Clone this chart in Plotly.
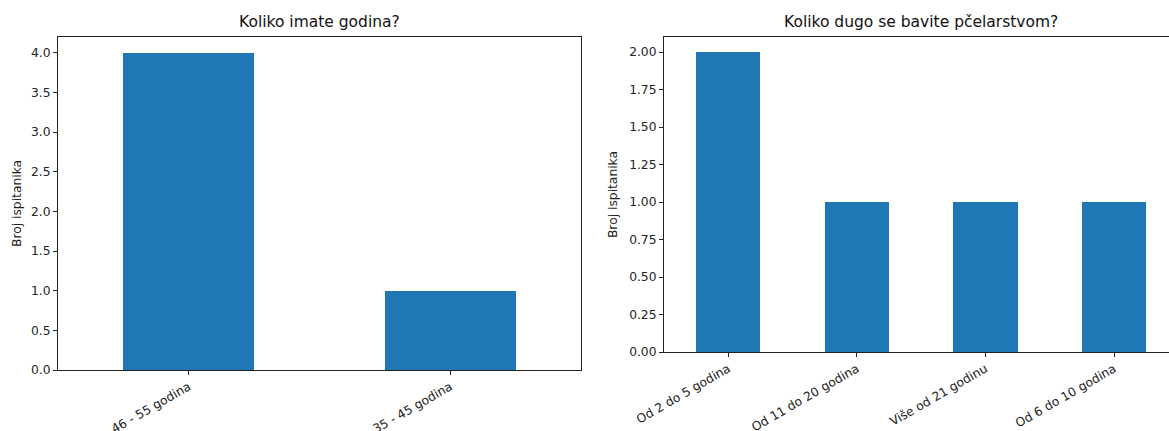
import plotly.graph_objects as go

# Data
age_labels = ['46 - 55 godina', '35 - 45 godina']
age_counts = [4, 1]

years_labels = ['Od 2 do 5 godina', 'Od 11 do 20 godina', 'Više od 21 godinu', 'Od 6 do 10 godina']
years_counts = [2, 1, 1, 1]

age_ticks = [0.0, 0.5, 1.0, 1.5, 2.0, 2.5, 3.0, 3.5, 4.0]
years_ticks = [0.0, 0.25, 0.5, 0.75, 1.0, 1.25, 1.5, 1.75, 2.0]

W, H = 1169, 431
BAR = '#1f77b4'
FONT = 'DejaVu Sans'


def px_x(v):
    return v / W


def px_y(v):
    return (H - v) / H


fig = go.Figure()
fig.add_trace(go.Bar(x=list(range(len(age_labels))), y=age_counts, width=0.5,
                     marker={'color': BAR, 'line': {'width': 0}},
                     xaxis='x', yaxis='y', showlegend=False))
fig.add_trace(go.Bar(x=list(range(len(years_labels))), y=years_counts, width=0.5,
                     marker={'color': BAR, 'line': {'width': 0}},
                     xaxis='x2', yaxis='y2', showlegend=False))

tick_font = {'family': FONT, 'size': 12.3, 'color': '#222'}
common_x = dict(showline=True, linecolor='#222', linewidth=1, ticks='outside',
                ticklen=4, tickcolor='#222', tickangle=-30, showgrid=False,
                zeroline=False, tickfont=tick_font, automargin=False)
common_y = dict(showline=True, linecolor='#222', linewidth=1, ticks='outside',
                ticklen=4, tickcolor='#222', showgrid=False, zeroline=False,
                tickfont=tick_font, automargin=False)


def y_title(standoff):
    return {'text': 'Broj ispitanika', 'standoff': standoff,
            'font': {'family': FONT, 'size': 12.3, 'color': '#222'}}


fig.update_layout(
    width=W, height=H,
    margin={'l': 0, 'r': 0, 't': 0, 'b': 0},
    paper_bgcolor='white', plot_bgcolor='white',
    bargap=0,
    xaxis=dict(common_x, domain=[px_x(58), px_x(581)], range=[-0.5, 1.5], anchor='y',
               mirror=True, tickvals=list(range(len(age_labels))), ticktext=age_labels),
    yaxis=dict(common_y, domain=[px_y(370), px_y(37)], range=[0, 4.2], anchor='x',
               mirror=True, tickvals=age_ticks, ticktext=[f'{v:.1f}' for v in age_ticks],
               title=y_title(6)),
    xaxis2=dict(common_x, domain=[px_x(664), 1.0], range=[-0.5, 3.427], anchor='y2',
                mirror=True, tickvals=list(range(len(years_labels))), ticktext=years_labels),
    yaxis2=dict(common_y, domain=[px_y(352), px_y(37)], range=[0, 2.1], anchor='x2',
                tickvals=years_ticks, ticktext=[f'{v:.2f}' for v in years_ticks],
                title=y_title(8)),
    annotations=[
        dict(text='Koliko imate godina?', x=(px_x(58) + px_x(581)) / 2, y=px_y(22),
             xref='paper', yref='paper', showarrow=False, xanchor='center', yanchor='middle',
             font={'family': FONT, 'size': 15.5, 'color': '#111'}),
        dict(text='Koliko dugo se bavite pčelarstvom?', x=px_x(921), y=px_y(22),
             xref='paper', yref='paper', showarrow=False, xanchor='center', yanchor='middle',
             font={'family': FONT, 'size': 15.5, 'color': '#111'}),
    ],
)

# drop the default 8px page margin so the figure sits at the window's corner
fig.write_html('out.html', config={'displayModeBar': False},
               post_script="document.body.style.margin='0';")
